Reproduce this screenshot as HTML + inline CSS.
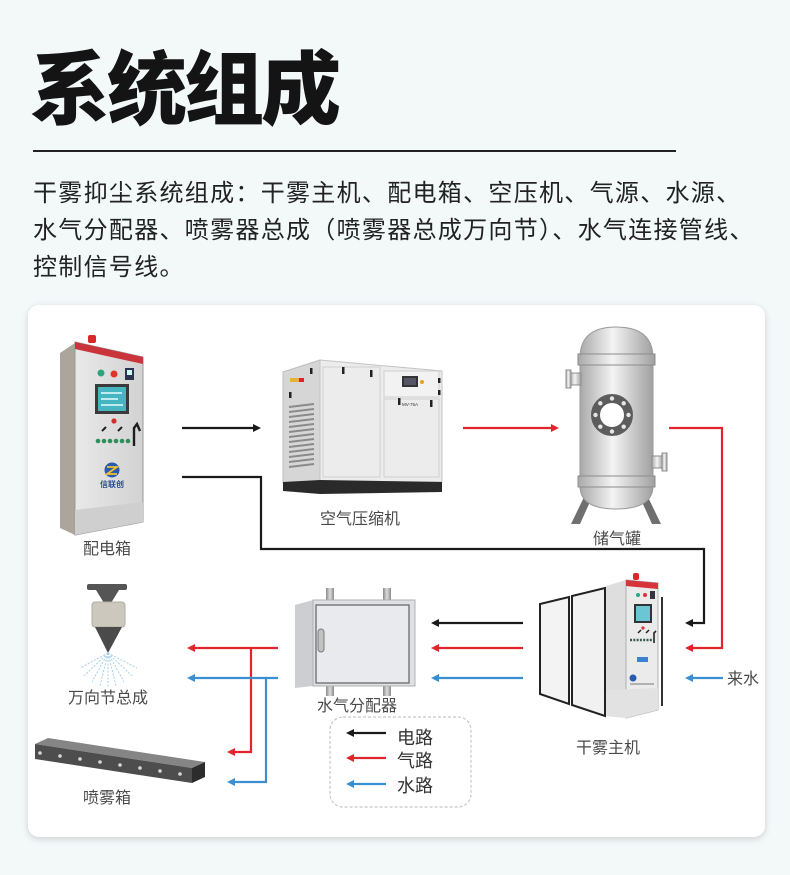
<!DOCTYPE html>
<html><head><meta charset="utf-8"><style>
html,body{margin:0;padding:0}
body{width:790px;height:875px;background:#f3f8f9;position:relative;overflow:hidden;font-family:"Liberation Sans","Noto Sans CJK SC",sans-serif}
.title{position:absolute;left:30px;top:51px;font-size:80px;line-height:80px;font-weight:900;letter-spacing:-3px;color:#141414;white-space:nowrap;font-family:"Liberation Sans","Noto Sans CJK SC",sans-serif}
.rule{position:absolute;left:33px;top:150px;width:643px;height:1.5px;background:#222}
.para{position:absolute;left:33px;top:175px;font-size:24px;line-height:37px;letter-spacing:1.3px;color:#222;white-space:nowrap}
.card{position:absolute;left:28px;top:305px;width:737px;height:532px;background:#fff;border-radius:11px;box-shadow:0 2px 7px rgba(0,0,0,0.16)}
svg{position:absolute;left:0;top:0}
</style></head><body>
<div class="title">系统组成</div>
<div class="rule"></div>
<div class="para">干雾抑尘系统组成：干雾主机、配电箱、空压机、气源、水源、<br>水气分配器、喷雾器总成（喷雾器总成万向节）、水气连接管线、<br>控制信号线。</div>
<div class="card"></div>
<svg width="790" height="875" viewBox="0 0 790 875" xmlns="http://www.w3.org/2000/svg" font-family="Liberation Sans, Noto Sans CJK SC, sans-serif">
<defs>
<linearGradient id="cyl" x1="0" x2="1" y1="0" y2="0">
<stop offset="0" stop-color="#a9a9a9"/><stop offset="0.45" stop-color="#f4f4f4"/><stop offset="1" stop-color="#a0a0a0"/>
</linearGradient>
<linearGradient id="front" x1="0" x2="1" y1="0" y2="0">
<stop offset="0" stop-color="#e9e9e9"/><stop offset="1" stop-color="#d2d2d2"/>
</linearGradient>
<linearGradient id="pipe" x1="0" x2="1" y1="0" y2="0">
<stop offset="0" stop-color="#8a8a8a"/><stop offset="0.5" stop-color="#dcdcdc"/><stop offset="1" stop-color="#8a8a8a"/>
</linearGradient>
</defs>

<!-- ============ 配电箱 ============ -->
<polygon points="60,353 75,343 75,535 60,528" fill="#aca59b"/>
<polygon points="75,342 143,357 143,522 75,535" fill="url(#front)" stroke="#9a9a9a" stroke-width="1"/>
<polygon points="75,510 143,502 143,522 75,535" fill="#cfcfcf"/>
<polygon points="75,342 143,357 143,364 75,349" fill="#c9353b"/>
<rect x="88" y="335" width="8" height="8" rx="2" fill="#d8282a"/>
<circle cx="101" cy="373" r="3.5" fill="#2aa77a"/>
<circle cx="114" cy="374" r="3.5" fill="#e0332e"/>
<rect x="125" y="368" width="9" height="12" fill="#2b3550"/>
<rect x="127" y="370" width="5" height="5" fill="#cfe"/>
<rect x="95" y="384" width="34" height="30" fill="#3a3a3a"/>
<rect x="98" y="387" width="28" height="24" fill="#45b5c2"/>
<line x1="101" y1="393" x2="122" y2="393" stroke="#e8fbff" stroke-width="1.5"/>
<line x1="101" y1="399" x2="118" y2="399" stroke="#e8fbff" stroke-width="1.5"/>
<line x1="101" y1="405" x2="123" y2="405" stroke="#e8fbff" stroke-width="1.5"/>
<circle cx="114" cy="421" r="2.6" fill="#d0302e"/>
<line x1="102" y1="431" x2="106" y2="427" stroke="#222" stroke-width="2"/>
<line x1="118" y1="431" x2="122" y2="427" stroke="#222" stroke-width="2"/>
<g fill="#2f8f5a">
<circle cx="98" cy="441" r="2.3"/><circle cx="104" cy="441" r="2.3"/><circle cx="110" cy="441" r="2.3"/><circle cx="116" cy="441" r="2.3"/><circle cx="122" cy="441" r="2.3"/><circle cx="128" cy="441" r="2.3"/>
</g>
<path d="M134 446 L134 428 L137 424 L140 431" fill="none" stroke="#1e1e1e" stroke-width="2.4"/>
<circle cx="112" cy="470" r="7.5" fill="#2a5bb0"/>
<path d="M107 467 L117 467 L107 474 L117 474" fill="none" stroke="#f2c230" stroke-width="1.8"/>
<text x="112" y="487" font-size="8" text-anchor="middle" fill="#2a4d8e" font-weight="bold">信联创</text>
<text x="107" y="554" font-size="16" text-anchor="middle" fill="#4a4a4a">配电箱</text>

<!-- ============ 空气压缩机 ============ -->
<polygon points="283,372 320,360 320,481 283,483" fill="#d6d6d6" stroke="#bdbdbd"/>
<polygon points="320,360 442,371 442,482 320,481" fill="#ececec" stroke="#c4c4c4"/>
<polygon points="283,482 320,480 442,482 442,492 320,494 283,491" fill="#2a2a2a"/>
<rect x="323" y="367" width="57" height="110" fill="none" stroke="#cfcfcf"/>
<rect x="384" y="371" width="55" height="26" fill="#f2f2f2" stroke="#cfcfcf"/>
<rect x="384" y="399" width="55" height="78" fill="none" stroke="#cfcfcf"/>
<rect x="402" y="376" width="16" height="11" fill="#333"/>
<rect x="404" y="378" width="12" height="7" fill="#556"/>
<circle cx="422" cy="382" r="2" fill="#e6a21e"/>
<text x="410" y="406" font-size="4.5" fill="#333" text-anchor="middle">MV-75A</text>
<g fill="#222">
<rect x="342" y="367" width="2.5" height="7"/><rect x="370" y="370" width="2.5" height="7"/>
<rect x="398" y="398" width="2.5" height="7"/><rect x="430" y="400" width="2.5" height="7"/>
<rect x="438" y="378" width="2.5" height="5"/><rect x="438" y="390" width="2.5" height="5"/>
<rect x="310" y="368" width="2.5" height="6"/><rect x="289" y="392" width="2.5" height="6"/>
</g>
<rect x="290" y="378" width="9" height="4" fill="#e8b32c"/>
<rect x="299" y="378" width="5" height="4" fill="#d23"/>
<g stroke="#8a8a8a" stroke-width="2">
<line x1="289" y1="407" x2="314" y2="404"/><line x1="289" y1="412" x2="314" y2="409"/><line x1="289" y1="417" x2="314" y2="414"/><line x1="289" y1="422" x2="314" y2="419"/><line x1="289" y1="427" x2="314" y2="424"/><line x1="289" y1="432" x2="314" y2="429"/><line x1="289" y1="437" x2="314" y2="434"/><line x1="289" y1="442" x2="314" y2="439"/><line x1="289" y1="447" x2="314" y2="444"/><line x1="289" y1="452" x2="314" y2="449"/><line x1="289" y1="457" x2="314" y2="454"/><line x1="289" y1="462" x2="314" y2="459"/><line x1="289" y1="467" x2="314" y2="464"/>
</g>
<text x="360" y="524" font-size="16" text-anchor="middle" fill="#4a4a4a">空气压缩机</text>

<!-- ============ 储气罐 ============ -->
<polygon points="586,493 594,493 580,524 571,524" fill="#6f6f6f"/>
<polygon points="638,493 646,493 661,524 652,524" fill="#6f6f6f"/>
<path d="M580 486 Q580 509 616 509 Q653 509 653 486 Z" fill="url(#cyl)" stroke="#9a9a9a"/>
<path d="M580 358 Q580 327 616 327 Q653 327 653 358 Z" fill="url(#cyl)" stroke="#9a9a9a"/>
<rect x="580" y="358" width="73" height="128" fill="url(#cyl)" stroke="#9a9a9a"/>
<rect x="578" y="354" width="77" height="11" fill="url(#cyl)" stroke="#8c8c8c"/>
<rect x="578" y="476" width="77" height="11" fill="url(#cyl)" stroke="#8c8c8c"/>
<rect x="570" y="373" width="11" height="12" fill="url(#cyl)" stroke="#8c8c8c"/>
<rect x="566" y="370" width="5" height="18" fill="url(#cyl)" stroke="#8c8c8c"/>
<rect x="652" y="456" width="11" height="12" fill="url(#cyl)" stroke="#8c8c8c"/>
<rect x="662" y="453" width="5" height="18" fill="url(#cyl)" stroke="#8c8c8c"/>
<circle cx="612" cy="415" r="16.5" fill="#fff" stroke="#5c5c5c" stroke-width="9"/>
<g fill="#e6e6e6">
<circle cx="612" cy="398.5" r="2.2"/><circle cx="623.7" cy="403.3" r="2.2"/><circle cx="628.5" cy="415" r="2.2"/><circle cx="623.7" cy="426.7" r="2.2"/><circle cx="612" cy="431.5" r="2.2"/><circle cx="600.3" cy="426.7" r="2.2"/><circle cx="595.5" cy="415" r="2.2"/><circle cx="600.3" cy="403.3" r="2.2"/>
</g>
<text x="617" y="544" font-size="16" text-anchor="middle" fill="#4a4a4a">储气罐</text>

<!-- ============ 万向节总成 ============ -->
<rect x="87" y="584" width="40" height="6" rx="2" fill="#555"/>
<polygon points="96,590 119,590 111,603 104,603" fill="#555"/>
<rect x="92" y="602" width="33" height="25" rx="3" fill="#cdc8be" stroke="#b3aea4"/>
<polygon points="95,627 122,627 108,653" fill="#4a4a4a"/>
<g stroke="#a8cfea" stroke-width="1" stroke-dasharray="2,1.5">
<line x1="108" y1="653" x2="80" y2="668"/><line x1="108" y1="653" x2="84" y2="676"/><line x1="108" y1="653" x2="92" y2="682"/><line x1="108" y1="653" x2="100" y2="686"/><line x1="108" y1="653" x2="108" y2="688"/><line x1="108" y1="653" x2="116" y2="686"/><line x1="108" y1="653" x2="124" y2="682"/><line x1="108" y1="653" x2="132" y2="676"/><line x1="108" y1="653" x2="137" y2="668"/>
</g>
<text x="108" y="703" font-size="16" text-anchor="middle" fill="#4a4a4a">万向节总成</text>

<!-- ============ 喷雾箱 ============ -->
<polygon points="35,744 48,738 205,762 192,768" fill="#858585"/>
<polygon points="35,744 192,768 192,783 35,759" fill="#4d4d4d"/>
<polygon points="192,768 205,762 205,777 192,783" fill="#2c2c2c"/>
<g fill="#d8d8d8">
<circle cx="40" cy="753" r="1.8"/><circle cx="60" cy="756" r="1.8"/><circle cx="80" cy="759" r="1.8"/><circle cx="100" cy="762" r="1.8"/><circle cx="120" cy="765" r="1.8"/><circle cx="140" cy="768" r="1.8"/><circle cx="160" cy="771" r="1.8"/><circle cx="180" cy="774" r="1.8"/>
</g>
<text x="107" y="803" font-size="16" text-anchor="middle" fill="#4a4a4a">喷雾箱</text>

<!-- ============ 水气分配器 ============ -->
<rect x="326" y="588" width="8" height="13" fill="url(#pipe)"/>
<rect x="383" y="588" width="8" height="13" fill="url(#pipe)"/>
<rect x="326" y="685" width="8" height="11" fill="url(#pipe)"/>
<rect x="383" y="685" width="8" height="11" fill="url(#pipe)"/>
<polygon points="295,605 313,600 313,686 295,688" fill="#cdced1"/>
<rect x="313" y="600" width="102" height="86" fill="#dfe0e3" stroke="#b0b0b0"/>
<rect x="316" y="605" width="93" height="78" fill="#e9eaed" stroke="#6a6a6a" stroke-width="1.3"/>
<rect x="318" y="629" width="6" height="23" rx="3" fill="#c2c2c2" stroke="#7a7a7a"/>
<text x="357" y="711" font-size="16" text-anchor="middle" fill="#4a4a4a">水气分配器</text>

<!-- ============ 干雾主机 ============ -->
<polygon points="540,604 569,597 569,704 540,694" fill="#f3f3f3" stroke="#222" stroke-width="2"/>
<polygon points="572,596 605,588 605,716 572,705" fill="#f1f1f1" stroke="#222" stroke-width="2"/>
<polygon points="606,586 626,580 626,718 606,716" fill="#dedede"/>
<polygon points="626,580 658,583 658,710 626,718" fill="#ebebeb" stroke="#b0b0b0"/>
<polygon points="606,690 658,688 658,710 626,718 606,716" fill="#e2e2e2"/>
<polygon points="626,580 658,583 658,589 626,586" fill="#d6343a"/>
<rect x="633" y="573" width="6" height="7" rx="2" fill="#d8282a"/>
<line x1="662" y1="597" x2="662" y2="706" stroke="#333" stroke-width="2"/>
<circle cx="638" cy="595" r="2" fill="#2a8"/>
<circle cx="645" cy="595" r="2" fill="#d33"/>
<rect x="650" y="591" width="5" height="8" fill="#334"/>
<rect x="634" y="604" width="18" height="19" fill="#333"/>
<rect x="636" y="606" width="14" height="15" fill="#6ac6d2"/>
<line x1="638" y1="633" x2="641" y2="630" stroke="#222" stroke-width="1.5"/>
<line x1="646" y1="633" x2="649" y2="630" stroke="#222" stroke-width="1.5"/>
<circle cx="643" cy="628" r="1.6" fill="#d33"/>
<line x1="630" y1="640" x2="653" y2="640" stroke="#3a5a4a" stroke-width="2.5" stroke-dasharray="2,1.3"/>
<path d="M654 643 L654 633 L656 631" fill="none" stroke="#222" stroke-width="1.6"/>
<rect x="637" y="657" width="11" height="5" fill="#3d7fd0"/>
<circle cx="633" cy="678" r="3.5" fill="#2a5bb0"/>
<line x1="630" y1="684" x2="654" y2="684" stroke="#777" stroke-width="1"/>
<text x="608" y="753" font-size="16" text-anchor="middle" fill="#4a4a4a">干雾主机</text>

<!-- ============ 连接线 ============ -->
<g fill="none" stroke-width="2.2" stroke-linejoin="miter">
<line x1="182" y1="428" x2="255" y2="428" stroke="#1a1a1a"/>
<polyline points="182,477 261,477 261,549 704,549 704,623 690,623" stroke="#1a1a1a"/>
<line x1="523" y1="623" x2="436" y2="623" stroke="#1a1a1a"/>
<line x1="463" y1="428" x2="553" y2="428" stroke="#e0262c"/>
<polyline points="669,428 722,428 722,648 690,648" stroke="#e0262c"/>
<line x1="523" y1="648" x2="436" y2="648" stroke="#e0262c"/>
<line x1="278" y1="648" x2="192" y2="648" stroke="#e0262c"/>
<polyline points="251,648 251,752 232,752" stroke="#e0262c"/>
<line x1="723" y1="678" x2="690" y2="678" stroke="#3a8fd2"/>
<line x1="523" y1="678" x2="436" y2="678" stroke="#3a8fd2"/>
<line x1="278" y1="678" x2="192" y2="678" stroke="#3a8fd2"/>
<polyline points="266,678 266,782 232,782" stroke="#3a8fd2"/>
</g>
<g>
<polygon points="261,428 253,424 253,432" fill="#1a1a1a"/>
<polygon points="685,623 693,619 693,627" fill="#1a1a1a"/>
<polygon points="431,623 439,619 439,627" fill="#1a1a1a"/>
<polygon points="559,428 551,424 551,432" fill="#e0262c"/>
<polygon points="685,648 693,644 693,652" fill="#e0262c"/>
<polygon points="431,648 439,644 439,652" fill="#e0262c"/>
<polygon points="187,648 195,644 195,652" fill="#e0262c"/>
<polygon points="227,752 235,748 235,756" fill="#e0262c"/>
<polygon points="685,678 693,674 693,682" fill="#3a8fd2"/>
<polygon points="431,678 439,674 439,682" fill="#3a8fd2"/>
<polygon points="187,678 195,674 195,682" fill="#3a8fd2"/>
<polygon points="227,782 235,778 235,786" fill="#3a8fd2"/>
</g>
<text x="727" y="684" font-size="16" fill="#4a4a4a">来水</text>

<!-- ============ 图例 ============ -->
<rect x="330" y="717" width="141" height="90" rx="13" fill="none" stroke="#c8c8c8" stroke-width="1.2" stroke-dasharray="3,2"/>
<line x1="352" y1="733" x2="386" y2="733" stroke="#1a1a1a" stroke-width="2.2"/>
<polygon points="346,733 354,729 354,737" fill="#1a1a1a"/>
<line x1="352" y1="758" x2="386" y2="758" stroke="#e0262c" stroke-width="2.2"/>
<polygon points="346,758 354,754 354,762" fill="#e0262c"/>
<line x1="352" y1="784" x2="386" y2="784" stroke="#3a8fd2" stroke-width="2.2"/>
<polygon points="346,784 354,780 354,788" fill="#3a8fd2"/>
<text x="397" y="744" font-size="18" fill="#333">电路</text>
<text x="397" y="767" font-size="18" fill="#333">气路</text>
<text x="397" y="792" font-size="18" fill="#333">水路</text>
</svg>
</body></html>
